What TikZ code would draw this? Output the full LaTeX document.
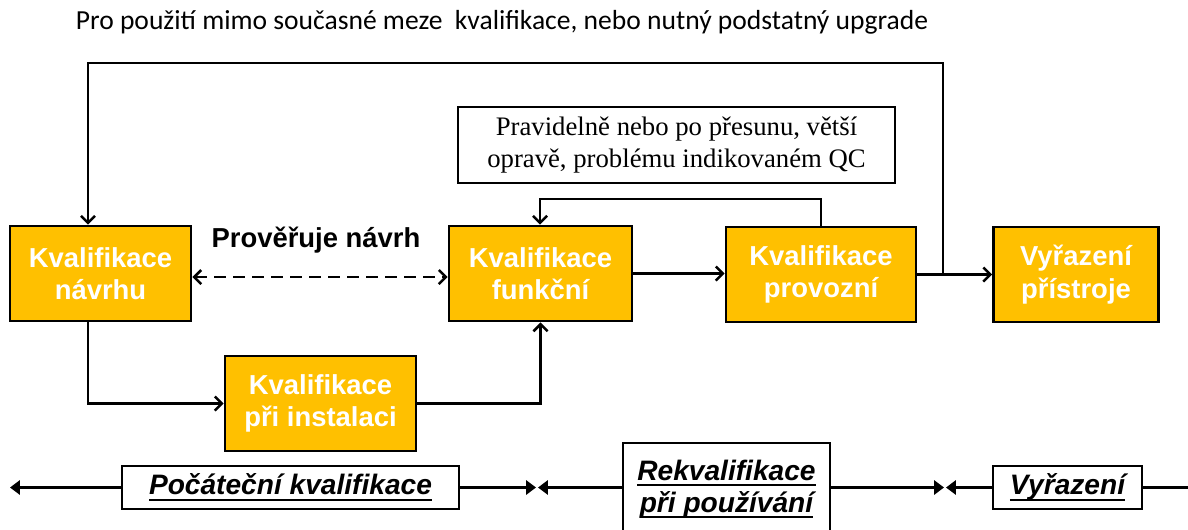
\documentclass[tikz,border=0pt]{standalone}
\usepackage{fontspec}
\usepackage{xcolor}
\usepackage{tikz}
\usetikzlibrary{arrows.meta}
\newfontfamily\boxfont{Liberation Sans}
\newfontfamily\notefont{Liberation Serif}
\newfontfamily\topfont{Carlito}
\definecolor{qorange}{HTML}{FFC000}
\newcommand{\thickul}[1]{\setbox0\hbox{#1}\hbox{\rlap{\rule[-4.5pt]{\wd0}{1.8pt}}\box0}}

\begin{document}
\begin{tikzpicture}[x=0.025cm, y=-0.025cm,
    qbox/.style={draw, line width=2pt, fill=qorange, minimum height=95*0.025cm,
                 align=center, text=white, font=\boxfont\bfseries\fontsize{19.5}{23}\selectfont,
                 inner sep=0pt},
    phase/.style={draw, line width=1.8pt, fill=white, minimum height=43*0.025cm, align=center,
                  font=\boxfont\bfseries\itshape\fontsize{20}{22.7}\selectfont, inner sep=0pt},
    arrow/.style={-{Straight Barb[length=5pt,width=10pt,line width=1.8pt]}, line width=1.8pt},
    tline/.style={-{Triangle[length=7pt,width=10pt]}, line width=1.8pt},
  ]
    \useasboundingbox (0,0) rectangle (1188,529);

    \node[font=\topfont\fontsize{19.6}{22}\selectfont] (toptxt) at (502,22)
      {Pro použití mimo současné meze~ kvalifikace, nebo nutný podstatný upgrade};

    \node[qbox, minimum width=181*0.025cm] (navrh) at (100.5,273.5) {Kvalifikace\\návrhu};
    \node[qbox, minimum width=183*0.025cm] (funkc) at (540.5,273.5) {Kvalifikace\\funkční};
    \node[qbox, minimum width=190*0.025cm] (provoz) at (821,274.5) {Kvalifikace\\provozní};
    \node[qbox, minimum width=165*0.025cm] (vyraz) at (1076,274.5) {Vyřazení\\přístroje};
    \node[qbox, minimum width=191*0.025cm] (instal) at (320.5,403.5) {Kvalifikace\\při instalaci};

    \node[draw, line width=1.8pt, minimum width=437*0.025cm, minimum height=76*0.025cm, align=center,
          font=\notefont\fontsize{19}{22.7}\selectfont, inner sep=0pt] (note) at (676.5,145)
      {Pravidelně nebo po přesunu, větší\\opravě, problému indikovaném QC};

    \node[font=\boxfont\bfseries\fontsize{19.5}{23}\selectfont] (proveruje) at (316,240) {Prověřuje návrh};

    \coordinate (lx) at (88,0);
    \coordinate (lt) at (88,63);
    \coordinate (fb) at (540,199);
    \coordinate (jn) at (943,273.5);

    \draw[arrow] (funkc.east) -- (funkc.east -| provoz.west);
    \draw[arrow] (provoz.east) -- (provoz.east -| vyraz.west);
    \draw[arrow] (provoz.north) |- (fb) -- (fb |- funkc.north);
    \draw[arrow] (jn) |- (lt) -- (lt |- navrh.north);
    \draw[arrow] (navrh.south -| lx) |- (instal.west);
    \draw[arrow] (instal.east) -| (funkc.south);
    \draw[line width=1.8pt, {Straight Barb[length=5pt,width=10pt,line width=1.8pt]}-{Straight Barb[length=5pt,width=10pt,line width=1.8pt]},
          dash pattern=on 8pt off 5.5pt]
      ([yshift=-3.5*0.025cm]navrh.east) -- ([yshift=-3.5*0.025cm]navrh.east -| funkc.west);

    % phases along the bottom
    \node[phase, minimum width=337*0.025cm] (pocat) at (290.5,487.5) {\thickul{Počáteční kvalifikace}};
    \node[phase, minimum width=207*0.025cm, minimum height=92*0.025cm] (rekval) at (726.5,489)
      {\thickul{Rekvalifikace}\\\thickul{při používání}};
    \node[phase, minimum width=149*0.025cm] (vyrb) at (1067.5,487.5) {\thickul{Vyřazení}};

    \coordinate (b0) at (10,487.5);
    \coordinate (b1) at (536,487.5);
    \coordinate (b2) at (538,487.5);
    \coordinate (b3) at (944,487.5);
    \coordinate (b4) at (946,487.5);
    \coordinate (b5) at (1200,487.5);

    \draw[tline] (pocat.west) -- (b0);
    \draw[tline] (pocat.east) -- (b1);
    \draw[tline] (rekval.west |- b2) -- (b2);
    \draw[tline] (rekval.east |- b3) -- (b3);
    \draw[tline] (vyrb.west) -- (b4);
    \draw[tline] (vyrb.east) -- (b5);
  \end{tikzpicture}
\end{document}
